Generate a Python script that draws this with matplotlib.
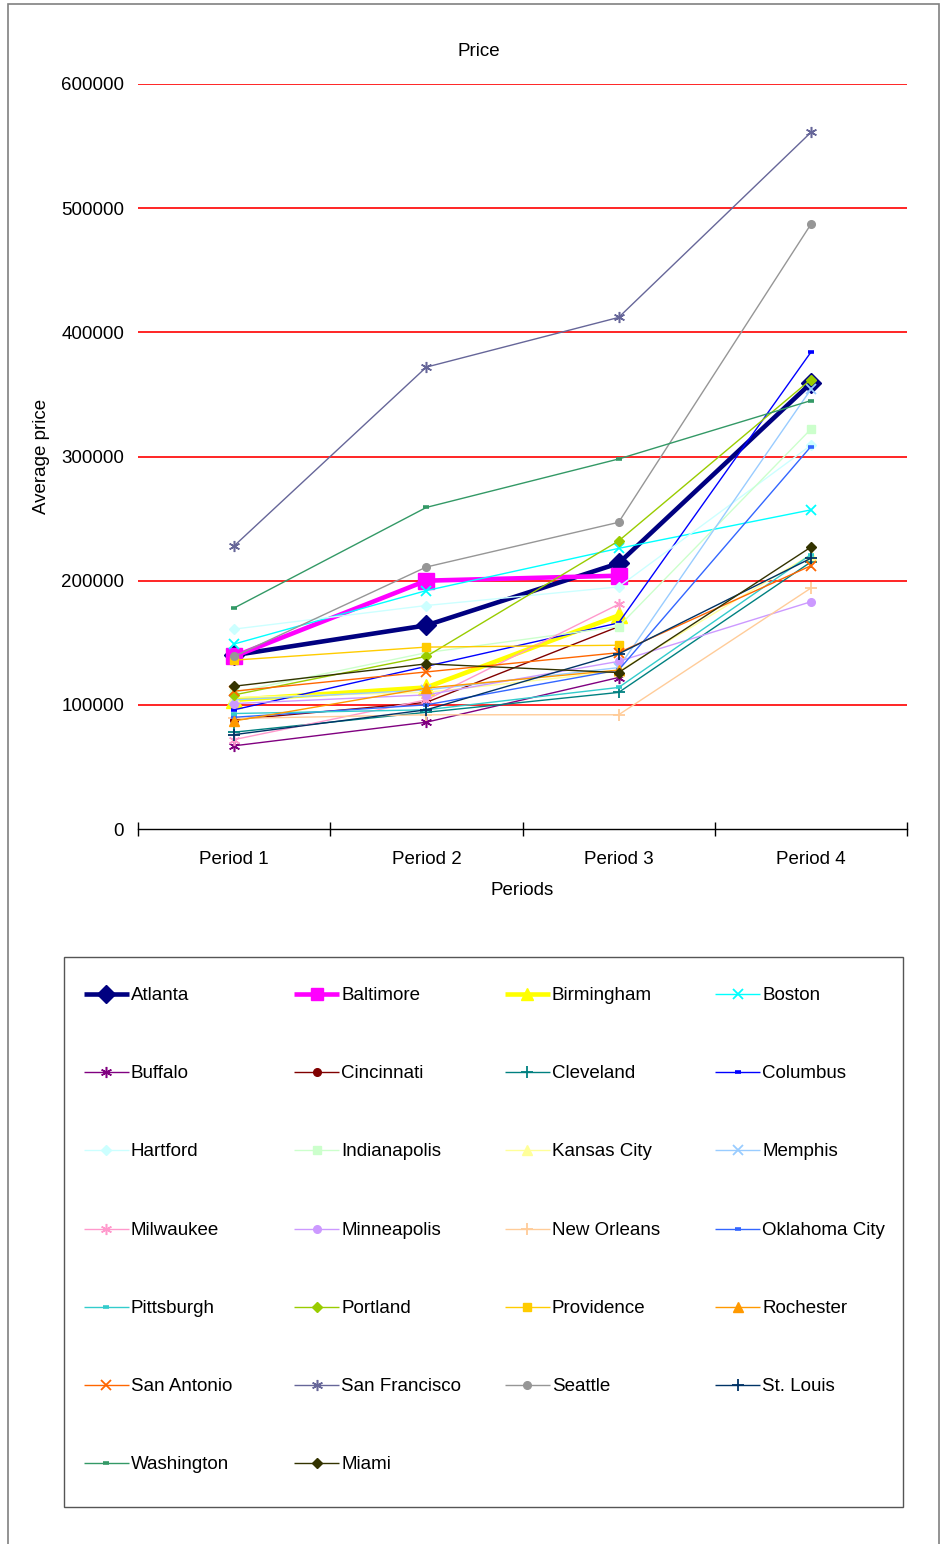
import numpy as np
import matplotlib.pyplot as plt
from matplotlib.patches import Rectangle

plt.rcParams['font.family'] = ['Liberation Sans', 'DejaVu Sans']

nan = np.nan
periods = ['Period 1', 'Period 2', 'Period 3', 'Period 4']

# average price per city, one value per period (nan = no data)
atlanta       = [140000, 164000, 214000, 359000]
baltimore     = [139000, 200000, 204000, nan]
birmingham    = [104000, 114000, 172000, nan]
boston        = [149000, 192000, 226000, 257000]
buffalo       = [67000, 86000, 122000, nan]
cincinnati    = [88000, 102000, 163000, nan]
cleveland     = [78000, 94000, 110000, 215000]
columbus      = [96000, 131000, 166000, 384000]
hartford      = [161000, 180000, 195000, 309000]
indianapolis  = [110000, 142000, 163000, 322000]
kansas_city   = [106000, 110000, 127000, 221000]
memphis       = [104000, 112000, 130000, 354000]
milwaukee     = [72000, 104000, 181000, nan]
minneapolis   = [101000, 108000, 135000, 183000]
new_orleans   = [89000, 92000, 92000, 194000]
oklahoma_city = [90000, 100000, 128000, 308000]
pittsburgh    = [93000, 96000, 114000, 221000]
portland      = [108000, 139000, 232000, 362000]
providence    = [136000, 146500, 148000, nan]
rochester     = [87000, 113500, 128000, nan]
san_antonio   = [111000, 126500, 142000, 212000]
san_francisco = [228000, 372000, 412000, 561000]
seattle       = [139000, 211000, 247000, 487000]
st_louis      = [76000, 96000, 141000, 218000]
washington    = [178000, 259000, 298000, 345000]
miami         = [115000, 133000, 126000, 227000]

cities = ['Atlanta', 'Baltimore', 'Birmingham', 'Boston', 'Buffalo', 'Cincinnati',
          'Cleveland', 'Columbus', 'Hartford', 'Indianapolis', 'Kansas City', 'Memphis',
          'Milwaukee', 'Minneapolis', 'New Orleans', 'Oklahoma City', 'Pittsburgh',
          'Portland', 'Providence', 'Rochester', 'San Antonio', 'San Francisco',
          'Seattle', 'St. Louis', 'Washington', 'Miami']
prices = [atlanta, baltimore, birmingham, boston, buffalo, cincinnati, cleveland,
          columbus, hartford, indianapolis, kansas_city, memphis, milwaukee,
          minneapolis, new_orleans, oklahoma_city, pittsburgh, portland, providence,
          rochester, san_antonio, san_francisco, seattle, st_louis, washington, miami]

ASTER = (6, 2, 0)
# colour, marker, marker size, marker edge width, line width
styles = [
    ('#000080', 'D', 10, 1, 3.3),
    ('#FF00FF', 's', 11, 1, 3.3),
    ('#FFFF00', '^', 12, 1, 3.3),
    ('#00FFFF', 'x', 7, 1.3, 1),
    ('#800080', ASTER, 8, 1.1, 1),
    ('#800000', 'o', 5.5, 1, 1),
    ('#008080', '+', 8, 1.3, 1),
    ('#0000FF', '_', 4.5, 2.6, 1),
    ('#CCFFFF', 'D', 5, 1, 1),
    ('#CCFFCC', 's', 5.5, 1, 1),
    ('#FFFF99', '^', 6.5, 1, 1),
    ('#99CCFF', 'x', 7, 1.3, 1),
    ('#FF99CC', ASTER, 8, 1.1, 1),
    ('#CC99FF', 'o', 5.5, 1, 1),
    ('#FFCC99', '+', 8, 1.3, 1),
    ('#3366FF', '_', 4.5, 2.6, 1),
    ('#33CCCC', '_', 4.5, 2.6, 1),
    ('#99CC00', 'D', 5, 1, 1),
    ('#FFCC00', 's', 5.5, 1, 1),
    ('#FF9900', '^', 6.5, 1, 1),
    ('#FF6600', 'x', 7, 1.3, 1),
    ('#666699', ASTER, 8, 1.1, 1),
    ('#969696', 'o', 5.5, 1, 1),
    ('#003366', '+', 8, 1.3, 1),
    ('#339966', '_', 4.5, 2.6, 1),
    ('#333300', 'D', 5, 1, 1),
]

W, H = 941, 1544
FS = 13.5
fig = plt.figure(figsize=(W / 100, H / 100), dpi=100)

# overlay in pixel coordinates for the border and the legend box
ov = fig.add_axes([0, 0, 1, 1])
ov.set_xlim(0, W)
ov.set_ylim(H, 0)
ov.axis('off')
ov.add_patch(Rectangle((8, 4), W - 10, H - 3, fill=False, ec='#808080', lw=1.2))
ov.text(479, 52, 'Price', fontsize=FS, ha='center', va='center')

ax = fig.add_axes([138 / W, 1 - 829 / H, (907 - 138) / W, (829 - 84) / H])
x = np.arange(len(periods)) + 0.5
for vals, (col, mk, ms, mew, lw) in zip(prices, styles):
    ax.plot(x, vals, color=col, lw=lw, marker=mk, ms=ms, mew=mew,
            mfc=col, mec=col, solid_joinstyle='miter', clip_on=False)

ax.set_xlim(0, 4)
ax.set_ylim(0, 600000)
ax.set_yticks(np.arange(0, 600001, 100000))
ax.set_yticklabels([f'{v:d}' for v in range(0, 600001, 100000)], fontsize=FS)
ax.tick_params(axis='y', length=0, pad=10)
ax.set_xticks([0, 1, 2, 3, 4])
ax.set_xticklabels([])
ax.set_xticks(x, minor=True)
ax.set_xticklabels(periods, minor=True, fontsize=FS)
ax.tick_params(axis='x', which='major', direction='inout', length=10, width=1)
ax.tick_params(axis='x', which='minor', length=0, pad=16)
for v in range(100000, 600001, 100000):
    ax.axhline(v, color='#FF0000', lw=1.2, zorder=0)
for s in ['top', 'right', 'left']:
    ax.spines[s].set_visible(False)
ax.spines['bottom'].set_linewidth(1)
ax.set_xlabel('Periods', fontsize=FS, labelpad=10)
ax.set_ylabel('Average price', fontsize=FS)
ax.yaxis.set_label_coords(-88 / (907 - 138), 0.5)

# legend laid out row by row, four entries per row
lg = fig.add_axes([0, 0, 1, 1], zorder=3)
lg.set_xlim(0, W)
lg.set_ylim(H, 0)
lg.axis('off')
lg.add_patch(Rectangle((64, 957), 839, 550, fill=False, ec='#555555', lw=1))
for i, (name, (col, mk, ms, mew, lw)) in enumerate(zip(cities, styles)):
    r, c = divmod(i, 4)
    x0 = 84 + 210.5 * c
    y0 = 994 + 78.2 * r
    lg.plot([x0, x0 + 45], [y0, y0], color=col, lw=lw, solid_capstyle='butt')
    lg.plot([x0 + 22.5], [y0], color=col, marker=mk, ms=min(ms, 9), mew=mew,
            mfc=col, mec=col)
    lg.text(x0 + 47, y0 + 1.5, name, fontsize=FS, va='center', ha='left')

fig.savefig('out.png', dpi=100)
